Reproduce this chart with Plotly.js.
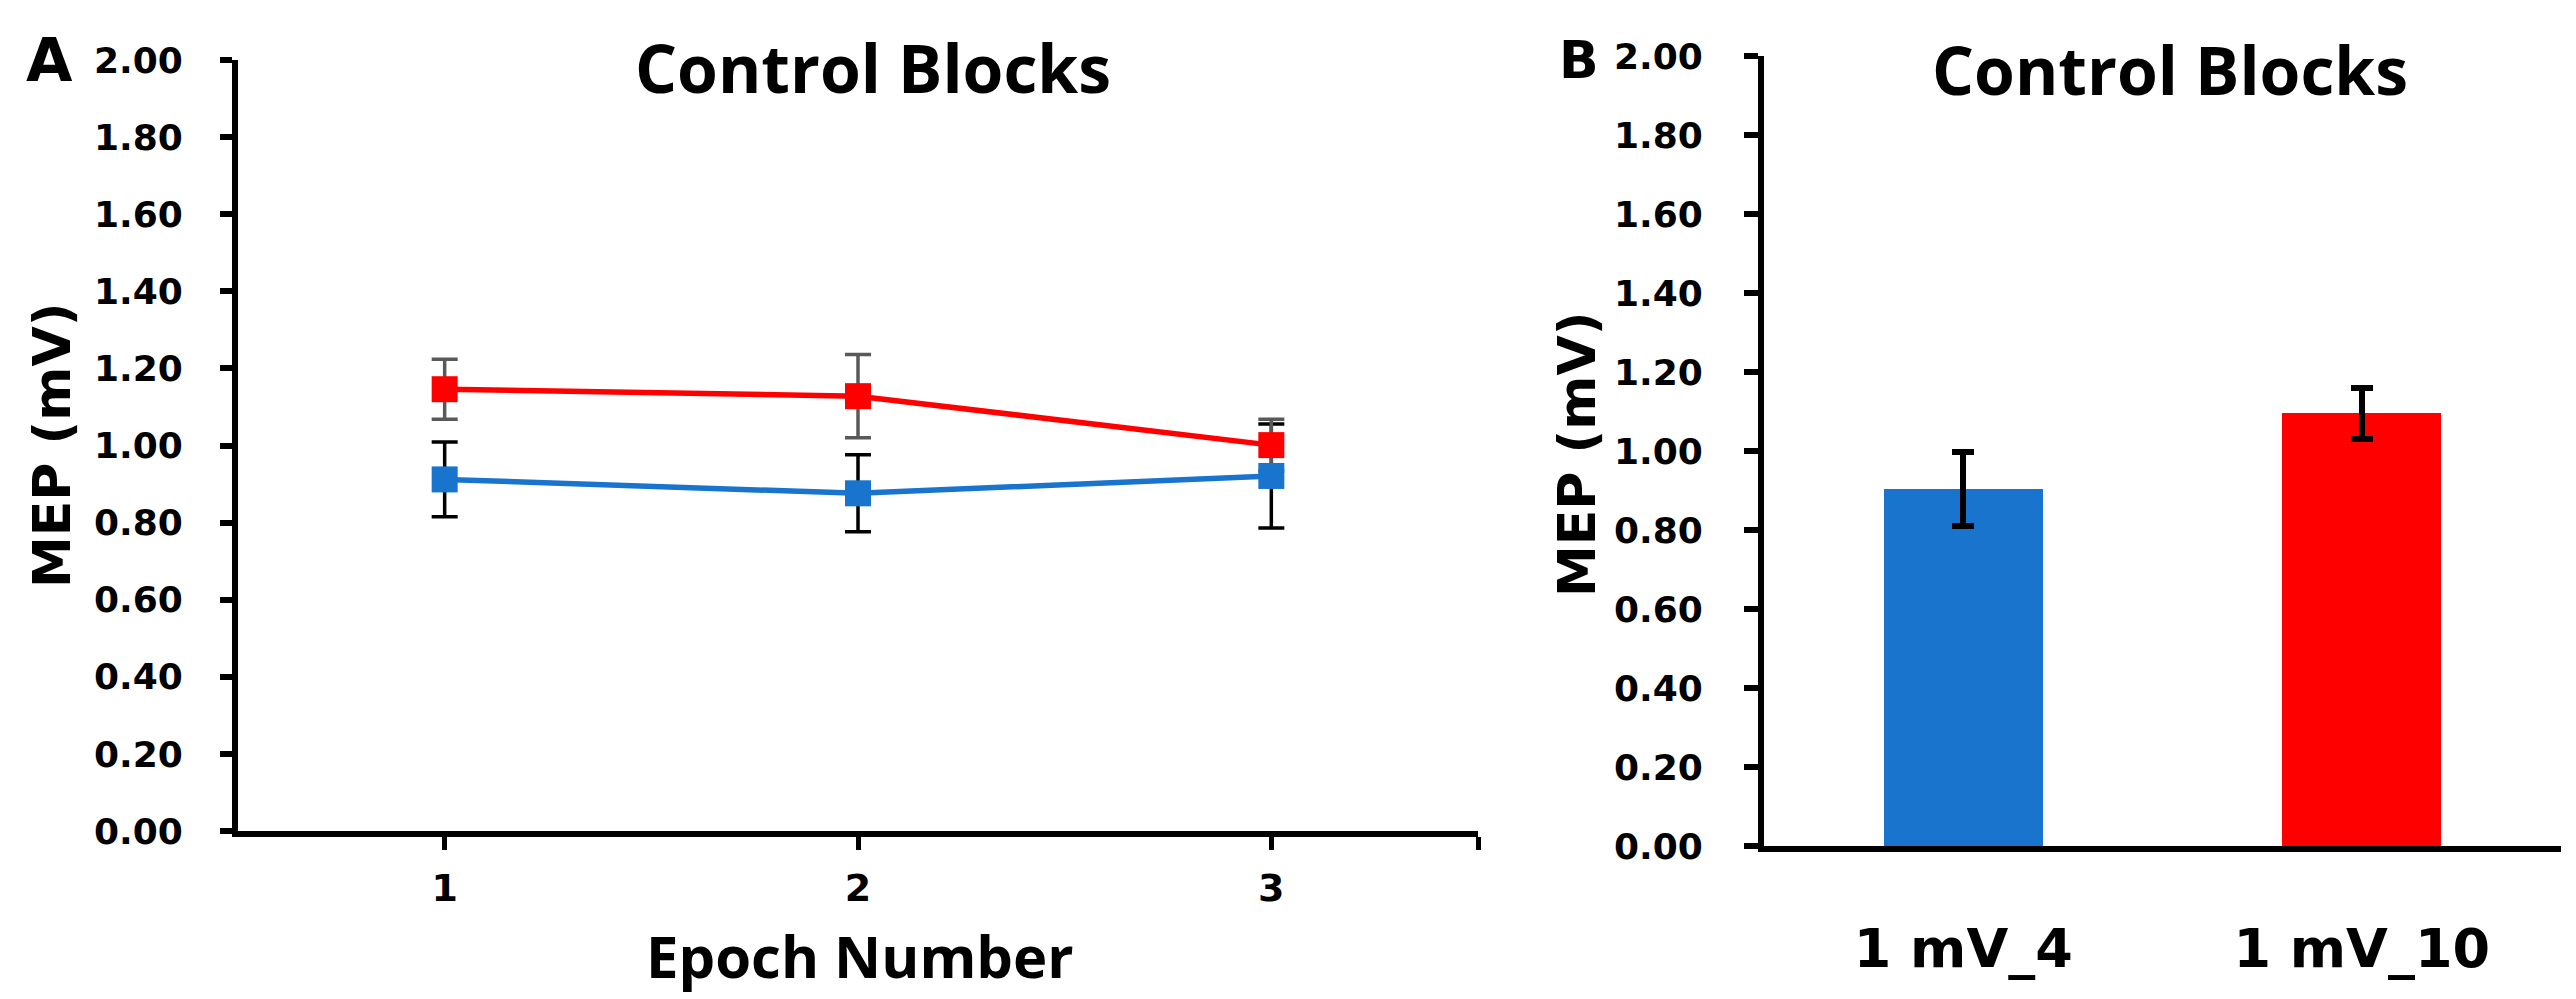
<!DOCTYPE html>
<html>
<head>
<meta charset="utf-8">
<script src="https://cdn.plot.ly/plotly-3.0.1.min.js"></script>
<style>
html,body{margin:0;padding:0;background:#fff;}
#chart{width:2576px;height:999px;}
</style>
</head>
<body>
<div id="chart"></div>
<script>
// ---- data ----
const epochs = [1, 2, 3];
const epochTickVals = [1, 2, 3, 3.5];
const epochTickText = ['1', '2', '3', ''];
const mep4 = [0.912, 0.876, 0.921];
const err4 = [0.097, 0.100, 0.135];
const mep10 = [1.146, 1.128, 1.001];
const err10 = [0.078, 0.108, 0.067];
const barCats = ['1 mV_4', '1 mV_10'];
const barVals = [0.903, 1.095];
const barErrs = [0.094, 0.065];
const yTickVals = [0, 0.2, 0.4, 0.6, 0.8, 1.0, 1.2, 1.4, 1.6, 1.8, 2.0];
const yTickText = ['0.00', '0.20', '0.40', '0.60', '0.80', '1.00', '1.20', '1.40', '1.60', '1.80', '2.00'];

const BLUE = '#1874CD';
const RED = '#FF0000';
const W = 2576, H = 999;
const px = v => v / W;
const py = v => 1 - v / H;

const traces = [
  { // blue error bars (drawn underneath)
    x: epochs, y: mep4, xaxis: 'x', yaxis: 'y', type: 'scatter', mode: 'markers',
    marker: {size: 26, symbol: 'square', color: BLUE, opacity: 0},
    error_y: {type: 'data', array: err4, visible: true, color: '#000000', thickness: 3.5, width: 13},
    hoverinfo: 'skip', showlegend: false
  },
  { // red error bars
    x: epochs, y: mep10, xaxis: 'x', yaxis: 'y', type: 'scatter', mode: 'markers',
    marker: {size: 26, symbol: 'square', color: RED, opacity: 0},
    error_y: {type: 'data', array: err10, visible: true, color: '#595959', thickness: 3.5, width: 13},
    hoverinfo: 'skip', showlegend: false
  },
  {
    x: epochs, y: mep4, xaxis: 'x', yaxis: 'y', type: 'scatter', mode: 'lines+markers',
    line: {color: BLUE, width: 5.5},
    marker: {size: 26, symbol: 'square', color: BLUE},
    name: '1 mV_4', showlegend: false
  },
  {
    x: epochs, y: mep10, xaxis: 'x', yaxis: 'y', type: 'scatter', mode: 'lines+markers',
    line: {color: RED, width: 5.5},
    marker: {size: 26, symbol: 'square', color: RED},
    name: '1 mV_10', showlegend: false
  },
  {
    x: barCats, y: barVals, xaxis: 'x2', yaxis: 'y2', type: 'bar',
    width: 0.4,
    marker: {color: [BLUE, RED], line: {width: 0}},
    error_y: {type: 'data', array: barErrs, visible: true, color: '#000000', thickness: 6, width: 11},
    showlegend: false
  }
];

const tickFont = {family: 'DejaVu Sans', size: 36, color: '#000000', weight: 'bold'};

const layout = {
  width: W, height: H,
  margin: {l: 0, r: 0, t: 0, b: 0, pad: 0},
  paper_bgcolor: '#ffffff', plot_bgcolor: 'rgba(0,0,0,0)',
  font: {family: 'DejaVu Sans', color: '#000000'},
  showlegend: false,
  bargap: 0,
  xaxis: {
    domain: [px(238), px(1478)], range: [0.5, 3.5], anchor: 'y',
    tickmode: 'array', tickvals: epochTickVals, ticktext: epochTickText,
    ticks: 'outside', ticklen: 13, tickwidth: 5, tickcolor: '#000',
    showline: true, linecolor: '#000', linewidth: 6,
    showgrid: false, zeroline: false,
    tickfont: {family: 'DejaVu Sans', size: 38, color: '#000', weight: 'bold'},
    ticklabelstandoff: 5
  },
  xaxis3: {
    overlaying: 'x', matches: 'x', range: [0.5, 3.5], anchor: 'y', side: 'bottom',
    tickmode: 'array', tickvals: epochTickVals, ticktext: ['', '', '', ''],
    ticks: 'inside', ticklen: 13, tickwidth: 5, tickcolor: '#000',
    showline: false, showgrid: false, zeroline: false, showticklabels: false
  },
  yaxis: {
    domain: [py(831), py(60)], range: [0, 2], anchor: 'x',
    tickmode: 'array', tickvals: yTickVals, ticktext: yTickText,
    ticks: 'outside', ticklen: 12, tickwidth: 6, tickcolor: '#000',
    showline: true, linecolor: '#000', linewidth: 6,
    showgrid: false, zeroline: false,
    tickfont: tickFont, ticklabelstandoff: 30
  },
  xaxis2: {
    domain: [px(1764), px(2561)], range: [-0.5, 1.5], anchor: 'y2', type: 'category',
    ticks: '', showline: true, linecolor: '#000', linewidth: 6,
    showgrid: false, zeroline: false,
    tickfont: {family: 'DejaVu Sans', size: 54, color: '#000', weight: 'bold'},
    ticklabelstandoff: 50
  },
  yaxis2: {
    domain: [py(846), py(56)], range: [0, 2], anchor: 'x2',
    tickmode: 'array', tickvals: yTickVals, ticktext: yTickText,
    ticks: 'outside', ticklen: 14, tickwidth: 6, tickcolor: '#000',
    showline: true, linecolor: '#000', linewidth: 6,
    showgrid: false, zeroline: false,
    tickfont: tickFont, ticklabelstandoff: 34
  },
  annotations: [
    {text: 'A', x: px(50), y: py(60), xref: 'paper', yref: 'paper', showarrow: false,
     xanchor: 'center', yanchor: 'middle', font: {family: 'DejaVu Sans', size: 60, color: '#000', weight: 'bold'}},
    {text: 'B', x: px(1579), y: py(60), xref: 'paper', yref: 'paper', showarrow: false,
     xanchor: 'center', yanchor: 'middle', font: {family: 'DejaVu Sans', size: 52, color: '#000', weight: 'bold'}},
    {text: 'Control Blocks', x: px(873), y: py(67), xref: 'paper', yref: 'paper', showarrow: false,
     xanchor: 'center', yanchor: 'middle', font: {family: 'Open Sans', size: 66, color: '#000', weight: 'bold'}},
    {text: 'Control Blocks', x: px(2170), y: py(69), xref: 'paper', yref: 'paper', showarrow: false,
     xanchor: 'center', yanchor: 'middle', font: {family: 'Open Sans', size: 66, color: '#000', weight: 'bold'}},
    {text: 'Epoch Number', x: px(860), y: py(955), xref: 'paper', yref: 'paper', showarrow: false,
     xanchor: 'center', yanchor: 'middle', font: {family: 'Open Sans', size: 58, color: '#000', weight: 'bold'}},
    {text: 'MEP (mV)', x: px(52), y: py(446), xref: 'paper', yref: 'paper', showarrow: false, textangle: -90,
     xanchor: 'center', yanchor: 'middle', font: {family: 'DejaVu Sans', size: 52, color: '#000', weight: 'bold'}},
    {text: 'MEP (mV)', x: px(1577), y: py(455), xref: 'paper', yref: 'paper', showarrow: false, textangle: -90,
     xanchor: 'center', yanchor: 'middle', font: {family: 'DejaVu Sans', size: 52, color: '#000', weight: 'bold'}}
  ]
};

Plotly.newPlot('chart', traces, layout, {staticPlot: true, displayModeBar: false});
</script>
</body>
</html>
